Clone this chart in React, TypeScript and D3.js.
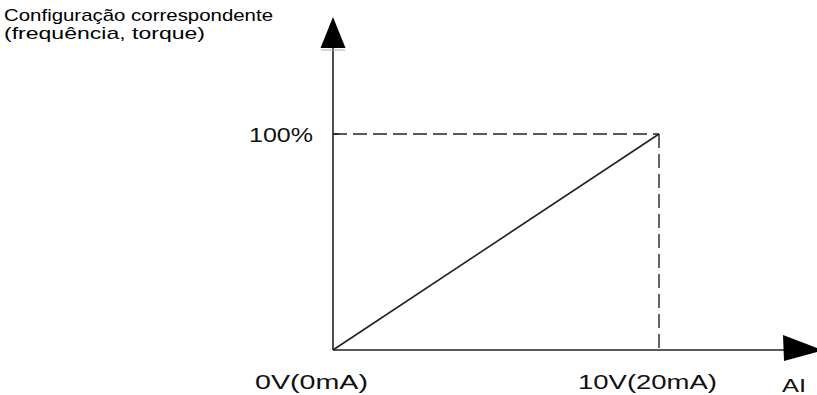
import React from "react";
import * as d3 from "d3";

const inputLabels = ["0V(0mA)", "10V(20mA)"];
const inputValues = [0, 10];
const outputValues = [0, 100];
const yTickLabels = ["100%"];
const titleLines = ["Configuração correspondente", "(frequência, torque)"];
const xAxisName = "AI";

export default function App() {
  const W = 817, H = 395;
  const x = d3.scaleLinear().domain([0, 10]).range([333, 659]);
  const y = d3.scaleLinear().domain([0, 100]).range([350, 134]);
  const line = d3.line<[number, number]>().x(d => x(d[0])).y(d => y(d[1]));
  const pts: [number, number][] = inputValues.map((v, i) => [v, outputValues[i]]);
  const x0 = x(0), y0 = y(0);
  const xMax = x(inputValues[1]), yMax = y(outputValues[1]);
  const font = "'Liberation Sans', Arial, sans-serif";
  const titleWidths = [269, 201];
  const labelStarts = [255, 578];
  const labelWidths = [113, 139];
  return (
    <svg width={W} height={H} style={{ position: "absolute", left: 0, top: 0, background: "#fff" }}>
      {titleLines.map((t, i) => (
        <text key={i} x={4} y={21 + i * 17.5} fontSize={17} fontFamily={font} fill="#000"
          textLength={titleWidths[i]} lengthAdjust="spacingAndGlyphs">{t}</text>
      ))}
      {/* y axis */}
      <line x1={x0} y1={y0} x2={x0} y2={48} stroke="#222" strokeWidth={1.6} />
      <path d={`M${x0},17 L${x0 + 12.5},48 L${x0 - 12.5},48 Z`} fill="#000" />
      <line x1={x0 - 12} y1={50} x2={x0 + 12} y2={50} stroke="#aaa" strokeWidth={1} />
      {/* x axis */}
      <line x1={x0} y1={y0} x2={784} y2={y0} stroke="#222" strokeWidth={1.6} />
      <path d={`M783,335 L817,348 L817,352 L784,361 Z`} fill="#000" />
      {/* dashed guides */}
      <line x1={x0} y1={yMax} x2={xMax} y2={yMax} stroke="#222" strokeWidth={1.4} strokeDasharray="14,6" />
      <line x1={xMax} y1={yMax} x2={xMax} y2={y0} stroke="#222" strokeWidth={1.4} strokeDasharray="14,6" />
      {/* tick at 100% */}
      <line x1={x0} y1={yMax} x2={x0 + 6} y2={yMax} stroke="#222" strokeWidth={1.4} />
      {/* diagonal */}
      <path d={line(pts) || ""} stroke="#222" strokeWidth={1.6} fill="none" />
      {/* labels */}
      <text x={249} y={142} fontSize={20} fontFamily={font} fill="#111"
        textLength={64} lengthAdjust="spacingAndGlyphs">{yTickLabels[0]}</text>
      {inputLabels.map((t, i) => (
        <text key={t} x={labelStarts[i]} y={389} fontSize={20} fontFamily={font} fill="#111"
          textLength={labelWidths[i]} lengthAdjust="spacingAndGlyphs">{t}</text>
      ))}
      <text x={782} y={392} fontSize={19} fontFamily={font} fill="#111"
        textLength={24} lengthAdjust="spacingAndGlyphs">{xAxisName}</text>
    </svg>
  );
}
